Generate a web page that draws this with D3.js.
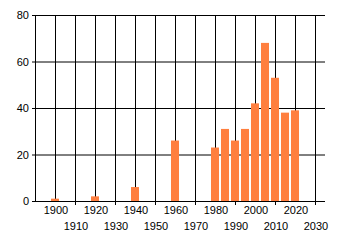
<!DOCTYPE html>
<html>
<head>
<meta charset="utf-8">
<script src="https://d3js.org/d3.v7.min.js"></script>
<style>
  body { margin: 0; background: #fff; }
  text { font-family: "Liberation Sans", Arial, sans-serif; font-size: 11px; fill: #000; }
</style>
</head>
<body>
<div id="chart"></div>
<script>
// values
var years  = [1900, 1920, 1940, 1960, 1980, 1985, 1990, 1995, 2000, 2005, 2010, 2015, 2020];
var counts = [1, 2, 6, 26, 23, 31, 26, 31, 42, 68, 53, 38, 39];
var xTicks = [1900, 1910, 1920, 1930, 1940, 1950, 1960, 1970, 1980, 1990, 2000, 2010, 2020, 2030];
var yTicks = [0, 20, 40, 60, 80];

var W = 340, H = 245;
var plotL = 35, plotR = 325, plotT = 15, plotB = 201;

var x = d3.scaleLinear().domain([1890, 2035]).range([plotL, plotR]);
var y = d3.scaleLinear().domain([0, 80]).range([plotB, plotT]);

var svg = d3.select("#chart").append("svg")
    .attr("width", W).attr("height", H);

// horizontal grid + y labels
svg.append("g")
    .attr("transform", "translate(" + plotL + ",0)")
    .call(d3.axisLeft(y).tickValues(yTicks).tickSize(3).tickPadding(3))
    .call(function(g) {
      g.select(".domain").remove();
      g.attr("font-family", null).attr("font-size", null);
      g.selectAll(".tick line").attr("x2", plotR - plotL).attr("x1", -3).attr("stroke", "#000");
    });

// vertical grid lines
svg.append("g").selectAll("line")
    .data(xTicks)
  .enter().append("line")
    .attr("x1", function(d) { return Math.round(x(d)) + 0.5; })
    .attr("x2", function(d) { return Math.round(x(d)) + 0.5; })
    .attr("y1", plotT)
    .attr("y2", function(d, i) { return i % 2 ? plotB + 4 : plotB; })
    .attr("stroke", "#000");

// bars
svg.append("g").selectAll("rect")
    .data(years)
  .enter().append("rect")
    .attr("x", function(d) { return x(d) - 4; })
    .attr("width", 8)
    .attr("y", function(d, i) { return y(counts[i]); })
    .attr("height", function(d, i) { return plotB - y(counts[i]); })
    .attr("fill", "#ff7f3f");

// axes lines
svg.append("line")
    .attr("x1", plotL + 0.5).attr("x2", plotL + 0.5)
    .attr("y1", plotT).attr("y2", plotB)
    .attr("stroke", "#000");
svg.append("line")
    .attr("x1", plotL).attr("x2", plotR)
    .attr("y1", plotB + 0.5).attr("y2", plotB + 0.5)
    .attr("stroke", "#000");

// staggered x labels
svg.append("g").selectAll("text")
    .data(xTicks)
  .enter().append("text")
    .attr("x", function(d) { return x(d) + 1; })
    .attr("y", function(d, i) { return i % 2 ? 230 : 214; })
    .attr("text-anchor", "middle")
    .text(function(d) { return d; });
</script>
</body>
</html>
